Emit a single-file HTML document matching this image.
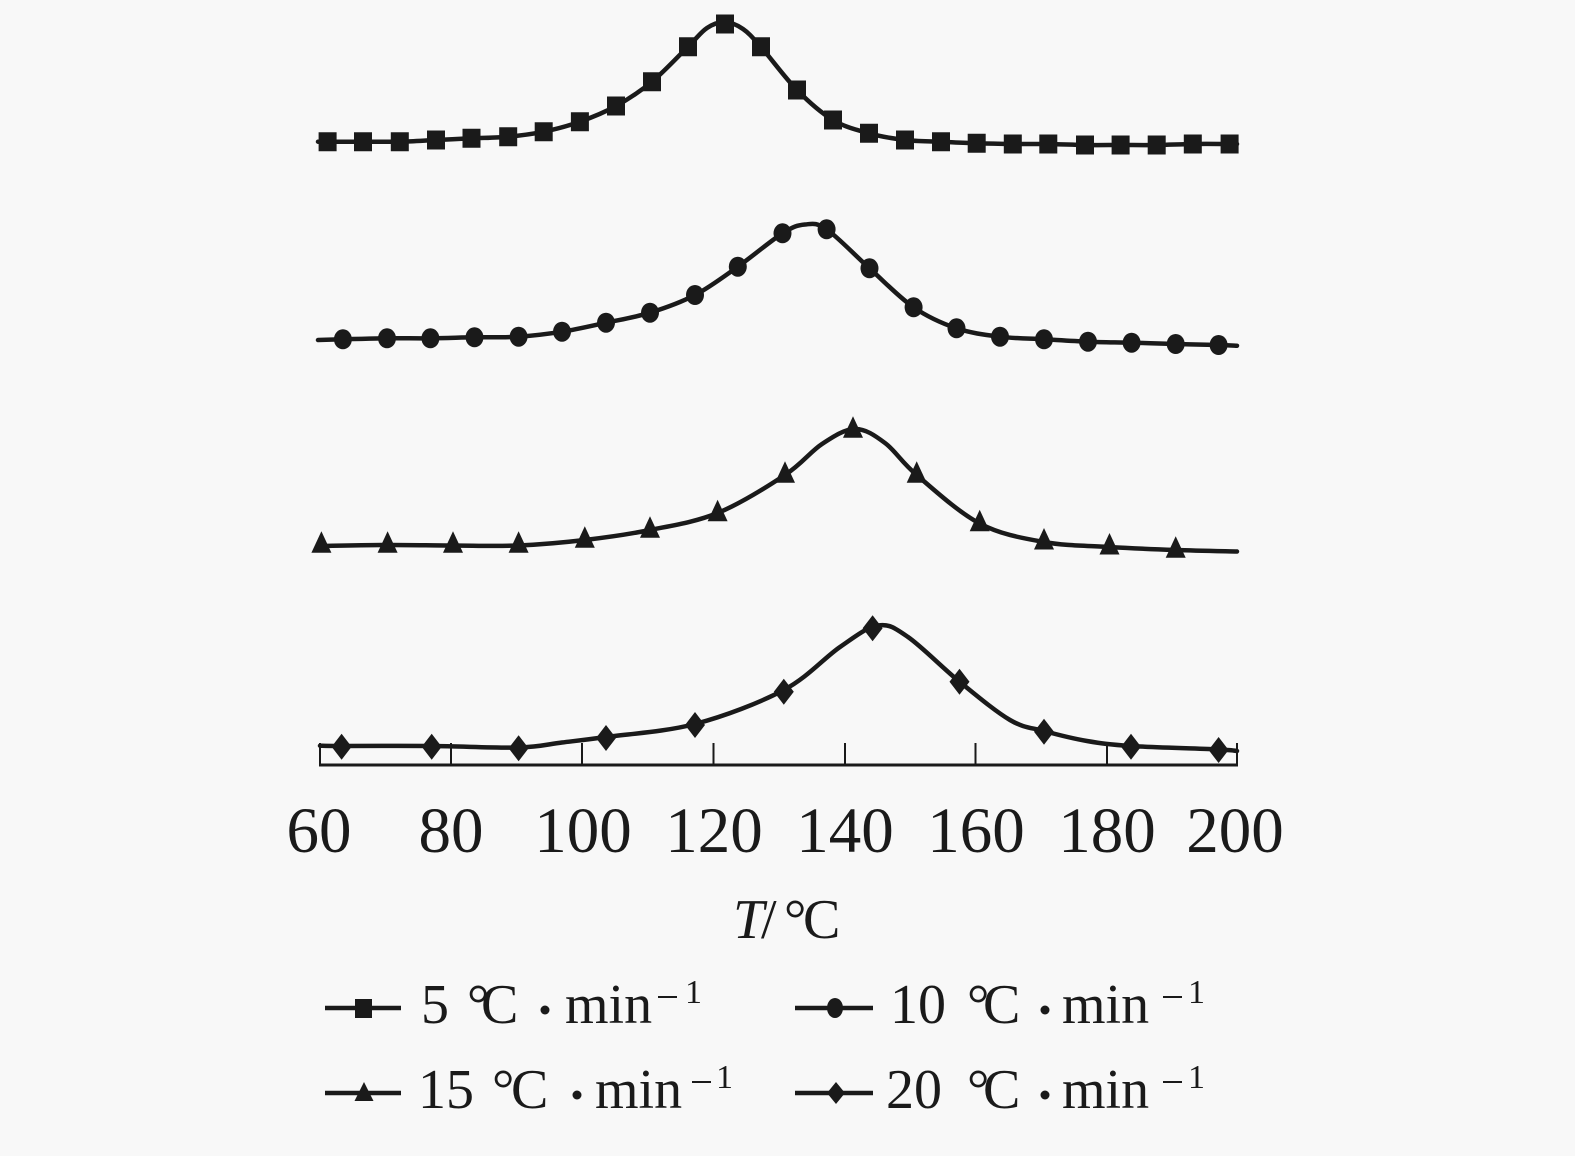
<!DOCTYPE html>
<html>
<head>
<meta charset="utf-8">
<style>
  html,body{margin:0;padding:0;background:#f8f8f8;}
  svg{display:block;}
  text{font-family:"Liberation Serif","Noto Serif CJK SC",serif;fill:#1a1a1a;}
</style>
</head>
<body>
<svg id="chart" width="1575" height="1156" viewBox="0 0 1575 1156" xmlns="http://www.w3.org/2000/svg">
  <rect width="1575" height="1156" fill="#f8f8f8"/>
  <defs>
    <path id="sq" d="M-9,-9.5h18v19h-18z" fill="#1a1a1a"/>
    <ellipse id="ci" cx="0" cy="0" rx="9" ry="10" fill="#1a1a1a"/>
    <path id="tr" d="M0,-12L10,9.5L-10,9.5z" fill="#1a1a1a"/>
    <path id="di" d="M0,-13L10,0L0,13L-10,0z" fill="#1a1a1a"/>
  </defs>

  <g id="curves" fill="none" stroke="#1a1a1a" stroke-width="4.5" stroke-linejoin="round" stroke-linecap="round">
    <polyline points="318,141.7 327.6,141.7 363,141.7 399.8,141.7 436,140 471.5,138.3 508.2,136.7 543.7,131.7 579.9,121.7 616,106 652,81.7 688,46.7 707,28 725,22 743,29 761,47 797,90 833,120 869,133.3 905,140 941,141.7 976.7,143.3 1012.8,144 1048.3,144 1085,145 1120.6,145 1156.7,145 1192.8,144 1229.6,144 1237,144"/>
    <polyline points="318,340 342.9,339.3 387,338.3 430.4,338.3 474.5,337.3 518.6,336.7 562,331.7 606,322.7 650,312.7 695,295 737.8,266.7 782.5,233.3 805,224.5 826.6,229.3 869.5,268.3 913.6,307.3 956.5,328.3 1000,336.7 1044,339.3 1088,341.7 1131.6,342.7 1175.7,344 1218.6,345 1237,345.7"/>
    <polyline points="320,546 387.6,545 453,545.5 518.6,545.5 584.8,540 650,530 717.6,513 785,475 822,444 855,429 885,443 916.7,475 979.7,523.5 1044,542 1109.5,547 1175.7,550 1237,551.5"/>
    <polyline points="320,745.7 341.6,746 431.7,746 518.6,747.5 562,742.5 606,737 695,724 783.8,690 840,647 878,625.5 908,637 959.5,681.7 1010,720 1044,731 1087,741 1131,746 1218.6,749.5 1237,751"/>
  </g>

  <g>
    <use href="#sq" x="327.6" y="141.7"/><use href="#sq" x="363" y="141.7"/><use href="#sq" x="399.8" y="141.7"/>
    <use href="#sq" x="436" y="140"/><use href="#sq" x="471.5" y="138.3"/><use href="#sq" x="508.2" y="136.7"/>
    <use href="#sq" x="543.7" y="131.7"/><use href="#sq" x="579.9" y="121.7"/><use href="#sq" x="616" y="106"/>
    <use href="#sq" x="652" y="81.7"/><use href="#sq" x="688" y="46.7"/><use href="#sq" x="725" y="24"/>
    <use href="#sq" x="761" y="46.7"/><use href="#sq" x="797" y="90"/><use href="#sq" x="833" y="120"/>
    <use href="#sq" x="869" y="133.3"/><use href="#sq" x="905" y="140"/><use href="#sq" x="941" y="141.7"/>
    <use href="#sq" x="976.7" y="143.3"/><use href="#sq" x="1012.8" y="144"/><use href="#sq" x="1048.3" y="144"/>
    <use href="#sq" x="1085" y="145"/><use href="#sq" x="1120.6" y="145"/><use href="#sq" x="1156.7" y="145"/>
    <use href="#sq" x="1192.8" y="144"/><use href="#sq" x="1229.6" y="144"/>
  </g>
  <g>
    <use href="#ci" x="342.9" y="339.3"/><use href="#ci" x="387" y="338.3"/><use href="#ci" x="430.4" y="338.3"/>
    <use href="#ci" x="474.5" y="337.3"/><use href="#ci" x="518.6" y="336.7"/><use href="#ci" x="562" y="331.7"/>
    <use href="#ci" x="606" y="322.7"/><use href="#ci" x="650" y="312.7"/><use href="#ci" x="695" y="295"/>
    <use href="#ci" x="737.8" y="266.7"/><use href="#ci" x="782.5" y="233.3"/><use href="#ci" x="826.6" y="229.3"/>
    <use href="#ci" x="869.5" y="268.3"/><use href="#ci" x="913.6" y="307.3"/><use href="#ci" x="956.5" y="328.3"/>
    <use href="#ci" x="1000" y="336.7"/><use href="#ci" x="1044" y="339.3"/><use href="#ci" x="1088" y="341.7"/>
    <use href="#ci" x="1131.6" y="342.7"/><use href="#ci" x="1175.7" y="344"/><use href="#ci" x="1218.6" y="345"/>
  </g>
  <g>
    <use href="#tr" x="321.4" y="543.3"/><use href="#tr" x="387.6" y="543.3"/><use href="#tr" x="453" y="543.3"/>
    <use href="#tr" x="518.6" y="543.3"/><use href="#tr" x="584.8" y="538.3"/><use href="#tr" x="650" y="528.3"/>
    <use href="#tr" x="717.6" y="511.7"/><use href="#tr" x="785" y="473.3"/><use href="#tr" x="853" y="428.3"/>
    <use href="#tr" x="916.7" y="473.3"/><use href="#tr" x="979.7" y="521.7"/><use href="#tr" x="1044" y="540"/>
    <use href="#tr" x="1109.5" y="545"/><use href="#tr" x="1175.7" y="548.3"/>
  </g>
  <g>
    <use href="#di" x="341.6" y="746.7"/><use href="#di" x="431.7" y="746.7"/><use href="#di" x="518.6" y="748.3"/>
    <use href="#di" x="606" y="738"/><use href="#di" x="695" y="725"/><use href="#di" x="783.8" y="691.7"/>
    <use href="#di" x="872.6" y="628.3"/><use href="#di" x="959.5" y="681.7"/><use href="#di" x="1044" y="731.7"/>
    <use href="#di" x="1131" y="746.7"/><use href="#di" x="1218.6" y="750"/>
  </g>

  <g stroke="#1a1a1a" fill="none">
    <line x1="319" y1="765" x2="1238" y2="765" stroke-width="3"/>
    <line x1="320" y1="743" x2="320" y2="766" stroke-width="2"/>
    <line x1="1237" y1="743" x2="1237" y2="766" stroke-width="2"/>
    <line x1="451" y1="743" x2="451" y2="765" stroke-width="2"/>
    <line x1="582" y1="743" x2="582" y2="765" stroke-width="2"/>
    <line x1="713.5" y1="743" x2="713.5" y2="765" stroke-width="2"/>
    <line x1="845" y1="743" x2="845" y2="765" stroke-width="2"/>
    <line x1="975.5" y1="743" x2="975.5" y2="765" stroke-width="2"/>
    <line x1="1107" y1="743" x2="1107" y2="765" stroke-width="2"/>
  </g>
  <g font-size="65" text-anchor="middle">
    <text x="319" y="852">60</text>
    <text x="451" y="852">80</text>
    <text x="583" y="852">100</text>
    <text x="714" y="852">120</text>
    <text x="845" y="852">140</text>
    <text x="976" y="852">160</text>
    <text x="1107" y="852">180</text>
    <text x="1235" y="852">200</text>
  </g>

  <g font-size="56">
    <text x="733" y="938" font-style="italic">T</text>
    <text x="761" y="938">/</text>
    <text x="784" y="938">°</text>
    <text x="803" y="938">C</text>
  </g>

  <g stroke="#1a1a1a" stroke-width="4.5">
    <line x1="325" y1="1008" x2="401" y2="1008"/>
    <line x1="795" y1="1008" x2="873" y2="1008"/>
    <line x1="325" y1="1093" x2="401" y2="1093"/>
    <line x1="795" y1="1093" x2="873" y2="1093"/>
  </g>
  <rect x="355" y="999" width="17" height="19" fill="#1a1a1a"/>
  <ellipse cx="835" cy="1008" rx="8" ry="10" fill="#1a1a1a"/>
  <path d="M364,1082L373.5,1101L354.5,1101z" fill="#1a1a1a"/>
  <path d="M836,1082L845,1093L836,1104L827,1093z" fill="#1a1a1a"/>

  <g font-size="56">
    <text x="421" y="1023">5</text>
    <text x="467" y="1023">°</text>
    <text x="481" y="1023">C</text>
    <text x="565" y="1023">min</text>
    <text x="890" y="1023">10</text>
    <text x="967" y="1023">°</text>
    <text x="983" y="1023">C</text>
    <text x="1062" y="1023">min</text>
    <text x="418" y="1108">15</text>
    <text x="492" y="1108">°</text>
    <text x="511" y="1108">C</text>
    <text x="595" y="1108">min</text>
    <text x="886" y="1108">20</text>
    <text x="967" y="1108">°</text>
    <text x="983" y="1108">C</text>
    <text x="1062" y="1108">min</text>
  </g>
  <g fill="#1a1a1a">
    <circle cx="545" cy="1010" r="4.5"/>
    <circle cx="1045" cy="1010" r="4.5"/>
    <circle cx="577" cy="1095" r="4.5"/>
    <circle cx="1045" cy="1095" r="4.5"/>
  </g>
  <g stroke="#1a1a1a" stroke-width="2">
    <line x1="658" y1="997" x2="677" y2="997"/>
    <line x1="1163" y1="997" x2="1182" y2="997"/>
    <line x1="692" y1="1082" x2="711" y2="1082"/>
    <line x1="1163" y1="1082" x2="1182" y2="1082"/>
  </g>
  <g font-size="34">
    <text x="685" y="1003">1</text>
    <text x="1188" y="1003">1</text>
    <text x="716" y="1088">1</text>
    <text x="1188" y="1088">1</text>
  </g>
</svg>
<script>
(function(){
  var ns="http://www.w3.org/2000/svg";
  var g=document.getElementById("curves");
  var pls=g.querySelectorAll("polyline");
  for(var k=0;k<pls.length;k++){
    var pl=pls[k];
    var raw=pl.getAttribute("points").trim().split(/\s+/);
    var p=raw.map(function(s){var a=s.split(",");return [parseFloat(a[0]),parseFloat(a[1])];});
    var d="M"+p[0][0]+","+p[0][1];
    for(var i=0;i<p.length-1;i++){
      var p0=p[i>0?i-1:i],p1=p[i],p2=p[i+1],p3=p[i+2<p.length?i+2:i+1];
      var c1x=p1[0]+(p2[0]-p0[0])/6,c1y=p1[1]+(p2[1]-p0[1])/6;
      var c2x=p2[0]-(p3[0]-p1[0])/6,c2y=p2[1]-(p3[1]-p1[1])/6;
      d+=" C"+c1x.toFixed(2)+","+c1y.toFixed(2)+" "+c2x.toFixed(2)+","+c2y.toFixed(2)+" "+p2[0]+","+p2[1];
    }
    var path=document.createElementNS(ns,"path");
    path.setAttribute("d",d);
    g.insertBefore(path,pl);
    g.removeChild(pl);
  }
})();
</script>
</body>
</html>
